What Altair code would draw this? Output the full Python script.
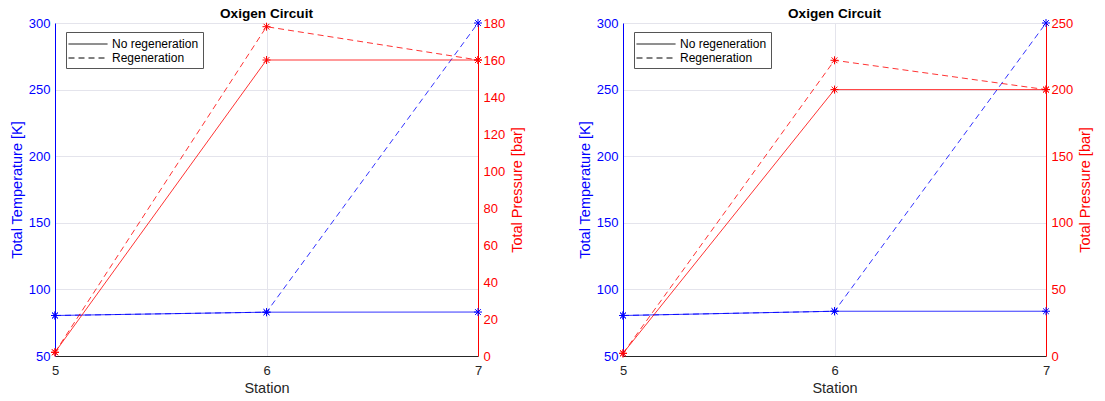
import altair as alt
import pandas as pd

stations = [5, 6, 7]
series_names = ["No regeneration", "Regeneration"]

# Left panel
temp_noregen_L = [80.4, 82.9, 83.0]
temp_regen_L = [80.4, 82.9, 300.0]
press_noregen_L = [2.0, 160.0, 160.0]
press_regen_L = [2.0, 178.0, 160.0]

# Right panel
temp_noregen_R = [80.4, 83.6, 83.6]
temp_regen_R = [80.4, 83.6, 300.0]
press_noregen_R = [2.0, 200.0, 200.0]
press_regen_R = [2.0, 222.0, 200.0]

temp_ticks = [50, 100, 150, 200, 250, 300]
press_ticks_L = [0, 20, 40, 60, 80, 100, 120, 140, 160, 180]
press_ticks_R = [0, 50, 100, 150, 200, 250]

BLUE = "#0000ff"
RED = "#ff0000"
FONT = "Liberation Sans"
ASTERISK = "M-1,0L1,0M0,-1L0,1M-0.72,-0.72L0.72,0.72M-0.72,0.72L0.72,-0.72"
LEGEND_LINE = "M-2.6,0L2.6,0"
DASH = [6, 4]
LABEL_SIZE = 13
TITLE_SIZE = 14.5


def series_df(vals, name):
    return pd.DataFrame({"Station": stations, name: vals})


def panel(t_a, t_b, p_a, p_b, p_ticks, p_max, W, H):
    # legend-only table: series names without coordinates (nothing drawn)
    ldf = pd.DataFrame({"Station": [None, None], "T": [None, None],
                        "series": series_names})

    x = alt.X(
        "Station:Q",
        scale=alt.Scale(domain=[stations[0], stations[-1]], nice=False),
        axis=alt.Axis(
            tickCount=len(stations) - 1, title="Station", format="d",
            grid=True, gridColor="#e4e4ec", domainColor="#262626",
            labelColor="#262626", titleColor="#262626", ticks=False,
            labelPadding=8, titlePadding=4, titleFontWeight="normal",
            titleFontSize=TITLE_SIZE, labelFontSize=LABEL_SIZE, labelFont=FONT,
            titleFont=FONT, labelOverlap=False, labelFlush=False,
        ),
    )
    y_t = alt.Y(
        "T:Q",
        scale=alt.Scale(domain=[50, 300], nice=False),
        axis=alt.Axis(
            values=temp_ticks, tickCount=50, title="Total Temperature [K]",
            orient="left", grid=True, gridColor="#e4e4ec", domainColor=BLUE,
            labelColor=BLUE, titleColor=BLUE, ticks=False, labelPadding=5,
            titlePadding=4, titleFontWeight="normal", titleFontSize=TITLE_SIZE,
            labelFontSize=LABEL_SIZE, labelFont=FONT, titleFont=FONT,
            labelOverlap=False,
        ),
    )
    y_p = alt.Y(
        "P:Q",
        scale=alt.Scale(domain=[0, p_max], nice=False),
        axis=alt.Axis(
            values=p_ticks, tickCount=50, title="Total Pressure [bar]",
            orient="right", grid=False, domainColor=RED, labelColor=RED,
            titleColor=RED, ticks=False, labelPadding=5, titlePadding=6,
            titleAngle=270, titleBaseline="top", titleFontWeight="normal",
            titleFontSize=TITLE_SIZE, labelFontSize=LABEL_SIZE, labelFont=FONT,
            titleFont=FONT, labelOverlap=False,
        ),
    )

    dash_legend = alt.StrokeDash(
        "series:N",
        scale=alt.Scale(domain=series_names, range=[[1, 0], DASH]),
        legend=alt.Legend(
            title=None, orient="none", legendX=11, legendY=9,
            fillColor="white", strokeColor="#555555", padding=4,
            symbolType=LEGEND_LINE, symbolSize=225, symbolStrokeWidth=1,
            symbolStrokeColor="black", symbolOffset=10,
            labelFontSize=12, labelFont=FONT, labelColor="black",
            rowPadding=0, labelOffset=16,
        ),
    )

    def line(vals, name, y, color, dashed):
        kw = dict(color=color, strokeWidth=1, opacity=0.8)
        if dashed:
            kw["strokeDash"] = DASH
        return alt.Chart(series_df(vals, name)).mark_line(**kw).encode(x=x, y=y)

    def pts(vals, name, y, color):
        return alt.Chart(series_df(vals, name)).mark_point(
            shape=ASTERISK, color=color, filled=False, size=64,
            strokeWidth=1, opacity=1,
        ).encode(x=x, y=y)

    leg = alt.Chart(ldf).mark_line(color="black", strokeWidth=1).encode(
        x=x, y=y_t, strokeDash=dash_legend
    )

    temp_layer = alt.layer(
        line(t_a, "T", y_t, BLUE, False),
        line(t_b, "T", y_t, BLUE, True),
        pts(t_a, "T", y_t, BLUE),
        pts(t_b, "T", y_t, BLUE),
        leg,
    )
    press_layer = alt.layer(
        line(p_a, "P", y_p, RED, False),
        line(p_b, "P", y_p, RED, True),
        pts(p_a, "P", y_p, RED),
        pts(p_b, "P", y_p, RED),
    )

    return alt.layer(temp_layer, press_layer).resolve_scale(
        y="independent"
    ).properties(
        width=W, height=H,
        title=alt.TitleParams(
            "Oxigen Circuit", fontSize=13.6, fontWeight="bold", font=FONT,
            color="black", offset=-4, anchor="middle",
        ),
    )


left = panel(temp_noregen_L, temp_regen_L, press_noregen_L, press_regen_L,
             press_ticks_L, 180, 423, 333)
right = panel(temp_noregen_R, temp_regen_R, press_noregen_R, press_regen_R,
              press_ticks_R, 250, 423, 333)

chart = alt.hconcat(left, right, spacing=52).resolve_legend(
    strokeDash="independent"
).properties(
    padding={"left": 9, "top": 7, "right": 5, "bottom": 5},
    background="white",
).configure_view(stroke=None)

chart.save("out.html", embed_options={"renderer": "svg", "actions": False})
